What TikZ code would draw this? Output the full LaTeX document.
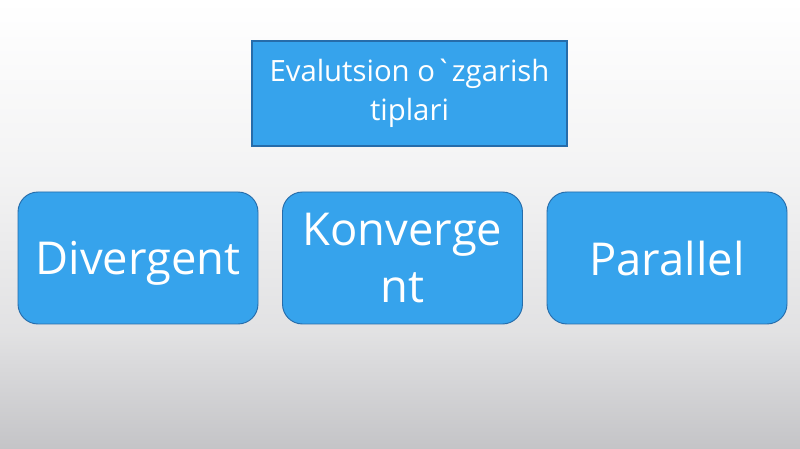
\documentclass[tikz,border=0pt]{standalone}
\usepackage{fontspec}
\newfontfamily\osans{Open Sans}
\definecolor{boxfill}{RGB}{54,163,236}
\definecolor{boxline}{RGB}{38,108,170}
\definecolor{bglow}{RGB}{196,196,199}
\pgfdeclareverticalshading{fon}{100bp}{color(0bp)=(bglow); color(25bp)=(bglow); color(38bp)=(bglow!50!white); color(56bp)=(bglow!20!white); color(75bp)=(white); color(100bp)=(white)}
\begin{document}
\begin{tikzpicture}[x=0.75pt,y=0.75pt,
  sarlavha/.style={rectangle,draw=boxline,line width=1.1pt,fill=boxfill,text=white,minimum width=236.25pt,minimum height=78.75pt,inner sep=0pt,align=center,font=\osans\fontsize{22}{29}\selectfont},
  tur/.style={rectangle,rounded corners=15pt,draw=boxline,line width=0.7pt,fill=boxfill,text=white,minimum width=180pt,minimum height=99pt,inner sep=0pt,align=center,font=\osans\fontsize{34}{43}\selectfont}]
\shade[shading=fon] (0,0) rectangle (800,449);
\useasboundingbox (0,0) rectangle (800,449);
\node[sarlavha] (T) at (409.5,355.5) {Evalutsion o`zgarish\\tiplari};
\node[tur,text depth=0pt] (D) at (138,191) {Divergent};
\node[tur] (K) at (402.5,191) {Konverge\\nt};
\node[tur,text depth=0pt] (P) at (667,191) {Parallel};
\end{tikzpicture}
\end{document}
